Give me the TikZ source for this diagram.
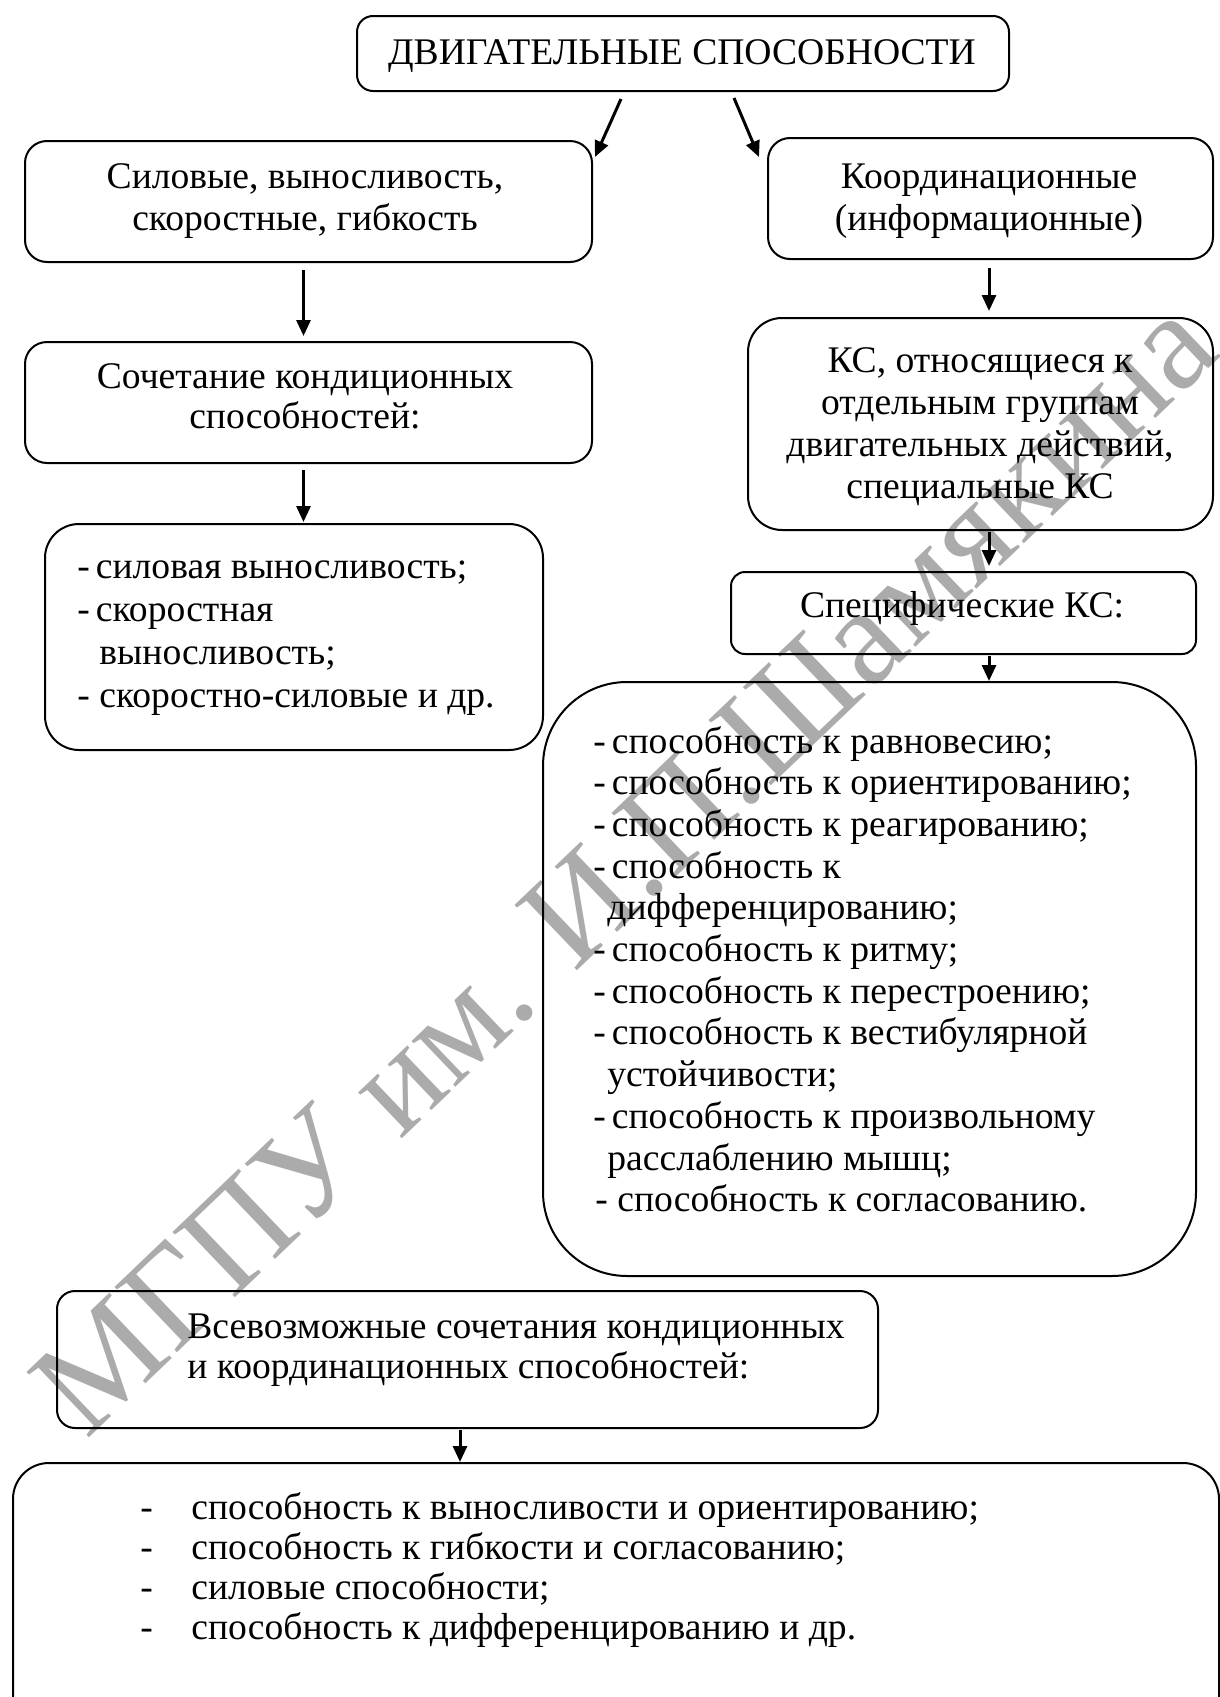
\documentclass[tikz,border=0pt]{standalone}
\usepackage{fontspec}
\setmainfont{Liberation Serif}
\usetikzlibrary{arrows.meta}
\newcommand\CLines[2]{\vtop{\baselineskip=#1\relax\lineskiplimit=-100pt\halign{\hfil##\hfil\cr#2\crcr}}}
\newcommand\LLines[2]{\vtop{\baselineskip=#1\relax\lineskiplimit=-100pt\halign{##\hfil\cr#2\crcr}}}
\begin{document}
\begin{tikzpicture}[x=0.5pt,y=-0.5pt,
  box/.style={draw, line width=1pt, inner sep=0pt, anchor=north west},
  txt/.style={inner sep=0pt, font=\fontsize{18.8}{20}\selectfont},
  arr/.style={line width=1.5pt, -{Triangle[length=8pt,width=7pt]}}]
\useasboundingbox (0,0) rectangle (1220,1697);
\clip (0,0) rectangle (1220,1697);
% watermark
\node[anchor=base west, inner sep=0pt, rotate=43.7, text=black!33,
  font=\fontsize{69}{69}\selectfont] (wm) at (86,1441) {МГПУ им. И.П.Шамякина};
% boxes
\node[box, rounded corners=8pt, minimum width=326pt, minimum height=37.5pt] (top) at (356,15) {};
\node[box, rounded corners=11pt, minimum width=283.5pt, minimum height=60.5pt] (A) at (24,140) {};
\node[box, rounded corners=11pt, minimum width=222.5pt, minimum height=60.5pt] (B) at (767,137) {};
\node[box, rounded corners=11pt, minimum width=283.5pt, minimum height=60.5pt] (C) at (24,341) {};
\node[box, rounded corners=17pt, minimum width=249pt, minimum height=113pt] (D) at (44,523) {};
\node[box, rounded corners=17pt, minimum width=232.5pt, minimum height=106pt] (E) at (747,317) {};
\node[box, rounded corners=7pt, minimum width=232.5pt, minimum height=41pt] (F) at (730,571) {};
\node[box, rounded corners=42pt, minimum width=326.5pt, minimum height=297pt] (G) at (542,681) {};
\node[box, rounded corners=9pt, minimum width=410.5pt, minimum height=68.5pt] (H) at (56,1290) {};
\node[box, rounded corners=18pt, minimum width=603pt, minimum height=150pt] (I) at (12,1462) {};
% texts
\node[txt, anchor=base] (tT) at (682,64) {ДВИГАТЕЛЬНЫЕ СПОСОБНОСТИ};
\node[txt, anchor=base] (tA) at (305,188) {\CLines{21pt}{Силовые, выносливость,\cr скоростные, гибкость}};
\node[txt, anchor=base] (tB) at (989,188) {\CLines{21pt}{Координационные\cr (информационные)}};
\node[txt, anchor=base] (tC) at (305,388) {\CLines{20pt}{Сочетание кондиционных\cr способностей:}};
\node[txt, anchor=base west] (tD) at (77,578) {\LLines{21.5pt}{-\kern3pt силовая выносливость;\cr
-\kern3pt скоростная\cr
\kern11pt выносливость;\cr
- скоростно-силовые и др.}};
\node[txt, anchor=base] (tE) at (980,372) {\CLines{21pt}{КС, относящиеся к\cr отдельным группам\cr двигательных действий,\cr специальные КС}};
\node[txt, anchor=base] (tF) at (962,617) {Специфические КС:};
\node[txt, anchor=base west] (tG) at (593,753) {\LLines{20.85pt}{-\kern3pt способность к равновесию;\cr
-\kern3pt способность к ориентированию;\cr
-\kern3pt способность к реагированию;\cr
-\kern3pt способность к\cr
\kern7pt дифференцированию;\cr
-\kern3pt способность к ритму;\cr
-\kern3pt способность к перестроению;\cr
-\kern3pt способность к вестибулярной\cr
\kern7pt устойчивости;\cr
-\kern3pt способность к произвольному\cr
\kern7pt расслаблению мышц;\cr
\kern1pt- способность к согласованию.}};
\node[txt, anchor=base west] (tH) at (187,1338) {\LLines{20pt}{Всевозможные сочетания кондиционных\cr и координационных способностей:}};
\node[txt, anchor=base west] (tI) at (140,1519) {\LLines{20pt}{\makebox[25.5pt][l]{-}способность к выносливости и ориентированию;\cr
\makebox[25.5pt][l]{-}способность к гибкости и согласованию;\cr
\makebox[25.5pt][l]{-}силовые способности;\cr
\makebox[25.5pt][l]{-}способность к дифференцированию и др.}};
% arrows
\draw[arr] ([shift={(-62,7)}]top.south) -- ([shift={(2,17)}]A.north east);
\draw[arr] ([shift={(51,6)}]top.south) -- ([shift={(-8,20)}]B.north west);
\draw[arr] ([shift={(-5,7)}]A.south) -- ([shift={(-5,-5)}]C.north);
\draw[arr] ([shift={(-5,6)}]C.south) -- ([shift={(9.5,-1)}]D.north);
\draw[arr] ([shift={(-1.5,8)}]B.south) -- ([shift={(8.5,-6)}]E.north);
\draw[arr] ([shift={(8.5,1)}]E.south) -- ([shift={(25.5,-5)}]F.north);
\draw[arr] ([shift={(25.5,1)}]F.south) -- ([shift={(119.5,0)}]G.north);
\draw[arr] ([shift={(-7.5,1)}]H.south) -- ([shift={(-156,0)}]I.north);
\end{tikzpicture}
\end{document}
